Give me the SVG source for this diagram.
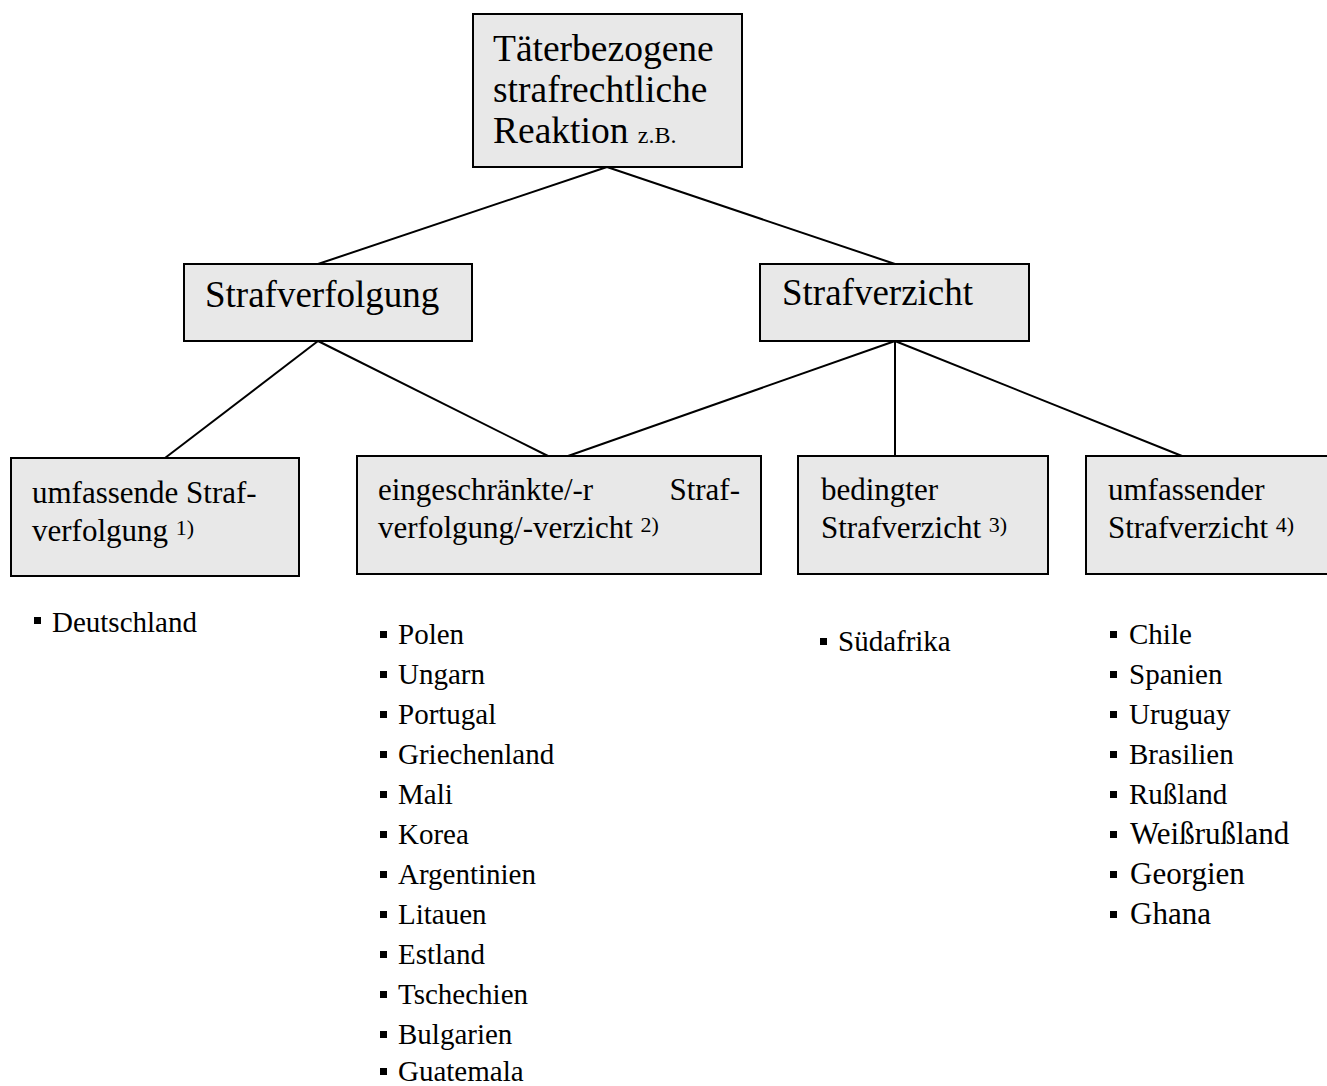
<svg xmlns="http://www.w3.org/2000/svg" width="1327" height="1086" viewBox="0 0 1327 1086">
<style>
.box{fill:#e8e8e8;stroke:#000;stroke-width:2}
text{font-family:'Liberation Serif','Times New Roman','DejaVu Serif',serif;fill:#000}
.big{font-size:37.5px}
.mid{font-size:37px}
.sm{font-size:31px}
.sup{font-size:22px}
.li{font-size:29px}
.lg{font-size:31px}
.b{fill:#000}
line{stroke:#000;stroke-width:2}
</style>
<rect width="1327" height="1086" fill="#fff"/>
<g id="connectors">
<line x1="607" y1="167" x2="318" y2="264"/>
<line x1="607" y1="167" x2="895" y2="264"/>
<line x1="318" y1="341" x2="165" y2="458"/>
<line x1="318" y1="341" x2="548" y2="456"/>
<line x1="895" y1="341" x2="568" y2="456"/>
<line x1="895" y1="341" x2="895" y2="456"/>
<line x1="895" y1="341" x2="1182" y2="456"/>
</g>
<g id="root">
<rect class="box" x="473" y="14" width="269" height="153"/>
<text class="big" x="493" y="61">Täterbezogene</text>
<text class="big" x="493" y="102">strafrechtliche</text>
<text class="big" x="493" y="143">Reaktion <tspan font-size="24px">z.B.</tspan></text>
</g>
<g id="strafverfolgung">
<rect class="box" x="184" y="264" width="288" height="77"/>
<text class="mid" x="205" y="307">Strafverfolgung</text>
</g>
<g id="strafverzicht">
<rect class="box" x="760" y="264" width="269" height="77"/>
<text class="mid" x="782" y="305">Strafverzicht</text>
</g>
<g id="umfassende-strafverfolgung">
<rect class="box" x="11" y="458" width="288" height="118"/>
<text class="sm" x="32" y="503">umfassende Straf-</text>
<text class="sm" x="32" y="541">verfolgung <tspan class="sup" dy="-6">1)</tspan></text>
</g>
<g id="eingeschraenkt">
<rect class="box" x="357" y="456" width="404" height="118"/>
<text class="sm" x="378" y="500">eingeschränkte/-r</text>
<text class="sm" x="740" y="500" text-anchor="end">Straf-</text>
<text class="sm" x="378" y="538">verfolgung/-verzicht <tspan class="sup" dy="-6">2)</tspan></text>
</g>
<g id="bedingter">
<rect class="box" x="798" y="456" width="250" height="118"/>
<text class="sm" x="821" y="500">bedingter</text>
<text class="sm" x="821" y="538">Strafverzicht <tspan class="sup" dy="-6">3)</tspan></text>
</g>
<g id="umfassender-strafverzicht">
<rect class="box" x="1086" y="456" width="260" height="118"/>
<text class="sm" x="1108" y="500">umfassender</text>
<text class="sm" x="1108" y="538">Strafverzicht <tspan class="sup" dy="-6">4)</tspan></text>
</g>
<g id="list-1">
<rect class="b" x="34" y="617" width="7" height="7"/>
<text class="li" x="52" y="632">Deutschland</text>
</g>
<g id="list-2">
<rect class="b" x="380" y="631" width="7" height="7"/><text class="li" x="398" y="644">Polen</text>
<rect class="b" x="380" y="671" width="7" height="7"/><text class="li" x="398" y="684">Ungarn</text>
<rect class="b" x="380" y="711" width="7" height="7"/><text class="li" x="398" y="724">Portugal</text>
<rect class="b" x="380" y="751" width="7" height="7"/><text class="li" x="398" y="764">Griechenland</text>
<rect class="b" x="380" y="791" width="7" height="7"/><text class="li" x="398" y="804">Mali</text>
<rect class="b" x="380" y="831" width="7" height="7"/><text class="li" x="398" y="844">Korea</text>
<rect class="b" x="380" y="871" width="7" height="7"/><text class="li" x="398" y="884">Argentinien</text>
<rect class="b" x="380" y="911" width="7" height="7"/><text class="li" x="398" y="924">Litauen</text>
<rect class="b" x="380" y="951" width="7" height="7"/><text class="li" x="398" y="964">Estland</text>
<rect class="b" x="380" y="991" width="7" height="7"/><text class="li" x="398" y="1004">Tschechien</text>
<rect class="b" x="380" y="1031" width="7" height="7"/><text class="li" x="398" y="1044">Bulgarien</text>
<rect class="b" x="380" y="1068" width="7" height="7"/><text class="li" x="398" y="1081">Guatemala</text>
</g>
<g id="list-3">
<rect class="b" x="820" y="638" width="7" height="7"/><text class="li" x="838" y="651">Südafrika</text>
</g>
<g id="list-4">
<rect class="b" x="1110" y="631" width="7" height="7"/><text class="li" x="1129" y="644">Chile</text>
<rect class="b" x="1110" y="671" width="7" height="7"/><text class="li" x="1129" y="684">Spanien</text>
<rect class="b" x="1110" y="711" width="7" height="7"/><text class="li" x="1129" y="724">Uruguay</text>
<rect class="b" x="1110" y="751" width="7" height="7"/><text class="li" x="1129" y="764">Brasilien</text>
<rect class="b" x="1110" y="791" width="7" height="7"/><text class="li" x="1129" y="804">Rußland</text>
<rect class="b" x="1110" y="831" width="7" height="7"/><text class="lg" x="1130" y="844">Weißrußland</text>
<rect class="b" x="1110" y="871" width="7" height="7"/><text class="lg" x="1130" y="884">Georgien</text>
<rect class="b" x="1110" y="911" width="7" height="7"/><text class="lg" x="1130" y="924">Ghana</text>
</g>
</svg>
